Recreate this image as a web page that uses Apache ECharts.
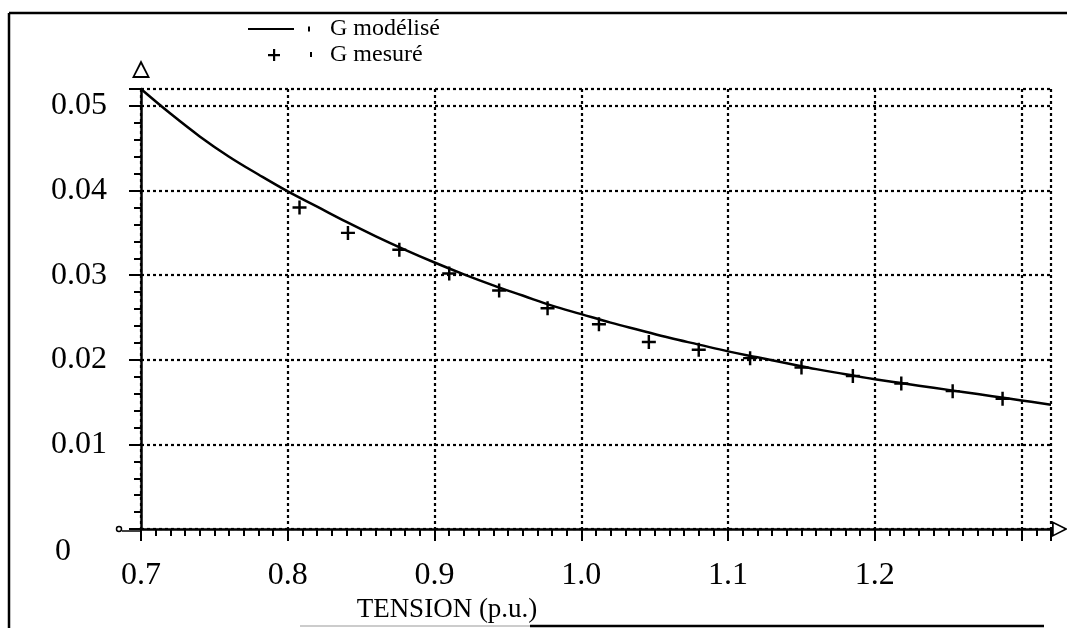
<!DOCTYPE html>
<html><head><meta charset="utf-8">
<script src="https://cdn.jsdelivr.net/npm/echarts@6/dist/echarts.min.js"></script>
<style>html,body{margin:0;padding:0;background:#fff}#c{width:1067px;height:628px}</style>
</head><body><div id="c"></div>
<script>
// ---- data ----
const modelX = [0.70,0.72,0.74,0.76,0.78,0.80,0.82,0.84,0.86,0.88,0.90,0.92,0.94,0.96,0.98,1.00,1.02,1.04,1.06,1.08,1.10,1.12,1.14,1.16,1.18,1.20,1.22,1.24,1.26,1.28,1.30,1.32];
const modelY = [0.0520,0.0491,0.0464,0.0440,0.0419,0.0399,0.0381,0.0363,0.0346,0.0330,0.0315,0.0301,0.0288,0.0276,0.0264,0.0254,0.0244,0.0235,0.0226,0.0218,0.0210,0.0203,0.0196,0.0189,0.0183,0.0177,0.0172,0.0167,0.0162,0.0157,0.0152,0.0147];
const measX = [0.808,0.841,0.876,0.910,0.944,0.977,1.012,1.046,1.080,1.115,1.150,1.185,1.218,1.253,1.287];
const measY = [0.0380,0.0350,0.0330,0.0302,0.0282,0.0261,0.0242,0.0221,0.0212,0.0202,0.0191,0.0181,0.0172,0.0163,0.0154];
const xLabels = ['0.7','0.8','0.9','1.0','1.1','1.2'];
const yLabels = ['0','0.01','0.02','0.03','0.04','0.05'];
const seriesNames = ['G modélisé','G mesuré'];
const xName = 'TENSION (p.u.)';

const FONT = "'Liberation Serif','Times New Roman',serif";
const chart = echarts.init(document.getElementById('c'), null, {renderer:'canvas'});
const dotted = {color:'#000', width:2.2, type:[3,3]};
const hollowArrow = 'path://M5,0 L10,10 L0,10 Z M5,2.3 L1.6,8.9 L8.4,8.9 Z';
const plus = 'path://M8.25,0 H11.75 V8.25 H20 V11.75 H11.75 V20 H8.25 V11.75 H0 V8.25 H8.25 Z';

function fmtX(v){
  const s = v.toFixed(1);
  if (Math.abs(v - Number(s)) > 1e-6) return '';
  return xLabels.indexOf(s) >= 0 ? s : '';
}
function fmtY(v){
  if (Math.abs(v) < 1e-9) return '{z|' + yLabels[0] + '}';
  const s = v.toFixed(2);
  if (Math.abs(v - Number(s)) > 1e-7) return '';
  return yLabels.indexOf(s) >= 0 ? s : '';
}

chart.setOption({
  animation:false,
  backgroundColor:'#fff',
  grid:{left:141, right:16, top:89, bottom:97, containLabel:false},
  legend:[
    {left:243, top:12, orient:'vertical', itemWidth:62, itemHeight:5, selectedMode:false,
     itemStyle:{borderWidth:0},
     textStyle:{fontFamily:FONT, fontSize:24, color:'#000', padding:[0,0,0,15]},
     data:[{name:seriesNames[0], icon:'path://M0,1.5 H46 V3.5 H0 Z M60,0 H62 V5 H60 Z'}]},
    {left:263, top:38, orient:'vertical', itemWidth:44, itemHeight:12, selectedMode:false,
     itemStyle:{borderWidth:0},
     textStyle:{fontFamily:FONT, fontSize:24, color:'#000', padding:[0,0,0,13]},
     data:[{name:seriesNames[1], icon:'path://M5,0 H7.2 V5 H12 V7.2 H7.2 V12 H5 V7.2 H0 V5 H5 Z M42,3 H44 V8 H42 Z'}]}
  ],
  xAxis:[
    {type:'value', min:0.7, max:1.32, interval:0.1, position:'bottom',
     axisLine:{show:true, onZero:false, lineStyle:{color:'#000', width:2.5}, symbol:['none', hollowArrow], symbolSize:[16,16], symbolOffset:[0,9]},
     axisTick:{show:true, length:12, lineStyle:{color:'#000', width:2}},
     axisLabel:{show:true, margin:30, formatter:fmtX, fontFamily:FONT, fontSize:32, color:'#000'},
     splitLine:{show:true, lineStyle:dotted},
     name:xName, nameLocation:'middle', nameGap:61,
     nameTextStyle:{fontFamily:FONT, fontSize:27, color:'#000', padding:[0,298,0,0]}},
    {type:'value', min:0.7, max:1.32, interval:0.01, position:'bottom',
     axisLine:{show:false}, axisTick:{show:true, length:7, lineStyle:{color:'#000', width:2}},
     axisLabel:{show:false}, splitLine:{show:false}}
  ],
  yAxis:[
    {type:'value', min:0, max:0.052, interval:0.01, position:'left',
     axisLine:{show:true, onZero:false, lineStyle:{color:'#000', width:2.5}, symbol:['none', hollowArrow], symbolSize:[18,18], symbolOffset:[0,20]},
     axisTick:{show:true, length:12, lineStyle:{color:'#000', width:2}},
     axisLabel:{show:true, margin:34, formatter:fmtY, fontFamily:FONT, fontSize:32, color:'#000',
       rich:{z:{fontFamily:FONT, fontSize:32, color:'#000', padding:[44,36,0,0]}}},
     splitLine:{show:true, lineStyle:dotted}},
    {type:'value', min:0, max:0.052, interval:0.002, position:'left',
     axisLine:{show:false}, axisTick:{show:true, length:7, lineStyle:{color:'#000', width:2}},
     axisLabel:{show:false}, splitLine:{show:false}}
  ],
  series:[
    {name:seriesNames[0], type:'line', xAxisIndex:0, yAxisIndex:0, smooth:0.4, showSymbol:false, symbol:'none',
     lineStyle:{color:'#000', width:2.5}, itemStyle:{color:'#000'},
     data:modelX.map((x,i)=>[x, modelY[i]])},
    {name:seriesNames[1], type:'scatter', xAxisIndex:0, yAxisIndex:0, symbol:plus, symbolSize:14,
     itemStyle:{color:'#000', opacity:1}, z:3,
     data:measX.map((x,i)=>[x, measY[i]])}
  ],
  graphic:[
    {type:'line', shape:{x1:9, y1:13, x2:9, y2:628}, style:{stroke:'#000', lineWidth:2.5}},
    {type:'line', shape:{x1:9, y1:13, x2:1067, y2:13}, style:{stroke:'#000', lineWidth:2.5}},
    {type:'line', shape:{x1:300, y1:626, x2:530, y2:626}, style:{stroke:'#ccc', lineWidth:2}},
    {type:'line', shape:{x1:530, y1:626, x2:1044, y2:626}, style:{stroke:'#000', lineWidth:2.5}},
    {type:'line', shape:{x1:122, y1:531, x2:141, y2:531}, style:{stroke:'#000', lineWidth:1.5}},
    {type:'circle', shape:{cx:119, cy:529, r:2.5}, style:{fill:'#fff', stroke:'#000', lineWidth:1.5}}
  ]
});
</script></body></html>
